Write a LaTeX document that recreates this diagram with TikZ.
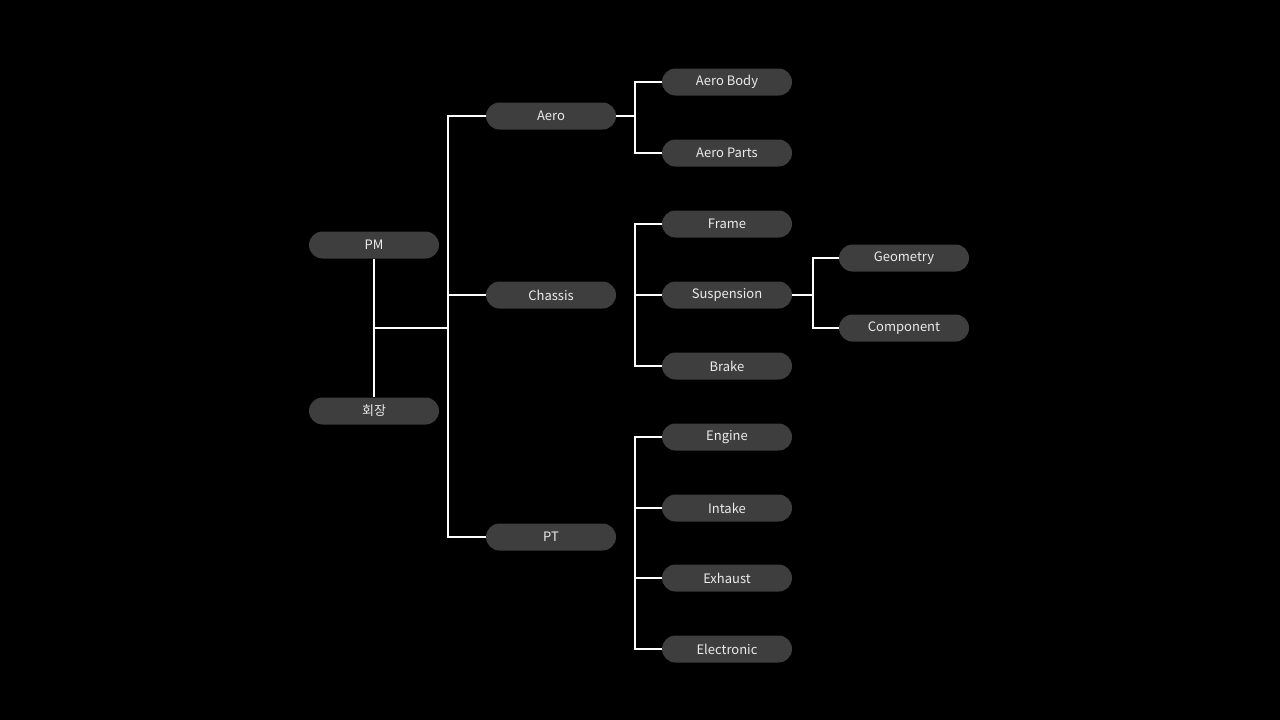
\documentclass[tikz,border=0pt]{standalone}
\usepackage{fontspec}
\setmainfont{Noto Sans CJK KR}
\begin{document}
\begin{tikzpicture}[x=1pt,y=-1pt,
 box/.style={fill={rgb,255:red,62;green,62;blue,62},rounded corners=13.5pt,minimum width=130pt,minimum height=27pt,inner sep=0pt,text={rgb,255:red,235;green,235;blue,235},font=\fontsize{13}{15}\selectfont},
 ln/.style={draw=white,line width=1.5pt}]
\fill[black] (0,0) rectangle (1280,720);
\node[box] (pm) at (374,245) {PM};
\node[box] (hj) at (374,411) {회장};
\node[box] (aero) at (551,116) {Aero};
\node[box] (ch) at (551,295) {Chassis};
\node[box] (pt) at (551,537) {PT};
\foreach \n/\t/\y in {ab/Aero Body/82,ap/Aero Parts/153,fr/Frame/224,su/Suspension/295,br/Brake/366,en/Engine/437,in/Intake/508,ex/Exhaust/578,el/Electronic/649}
  \node[box] (\n) at (727,\y) {\t};
\node[box] (ge) at (904,258) {Geometry};
\node[box] (co) at (904,328) {Component};
\coordinate (j1) at (374,328);
\coordinate (j2) at (448,328);
\draw[ln] (pm) -- (hj);
\draw[ln] (j1) -- (j2);
\draw[ln] (aero.west) -| (j2) |- (pt.west);
\draw[ln] (j2) |- (ch.west);
\draw[ln] (aero.east) -- (635,116);
\draw[ln] (ab.west) -| (635,116) |- (ap.west);
\draw[ln] (fr.west) -| (635,295) |- (br.west);
\draw[ln] (635,295) -- (su.west);
\draw[ln] (en.west) -| (635,540) |- (el.west);
\draw[ln] (635,508) -- (in.west);
\draw[ln] (635,578) -- (ex.west);
\draw[ln] (su.east) -- (813,295);
\draw[ln] (ge.west) -| (813,295) |- (co.west);
\end{tikzpicture}
\end{document}
